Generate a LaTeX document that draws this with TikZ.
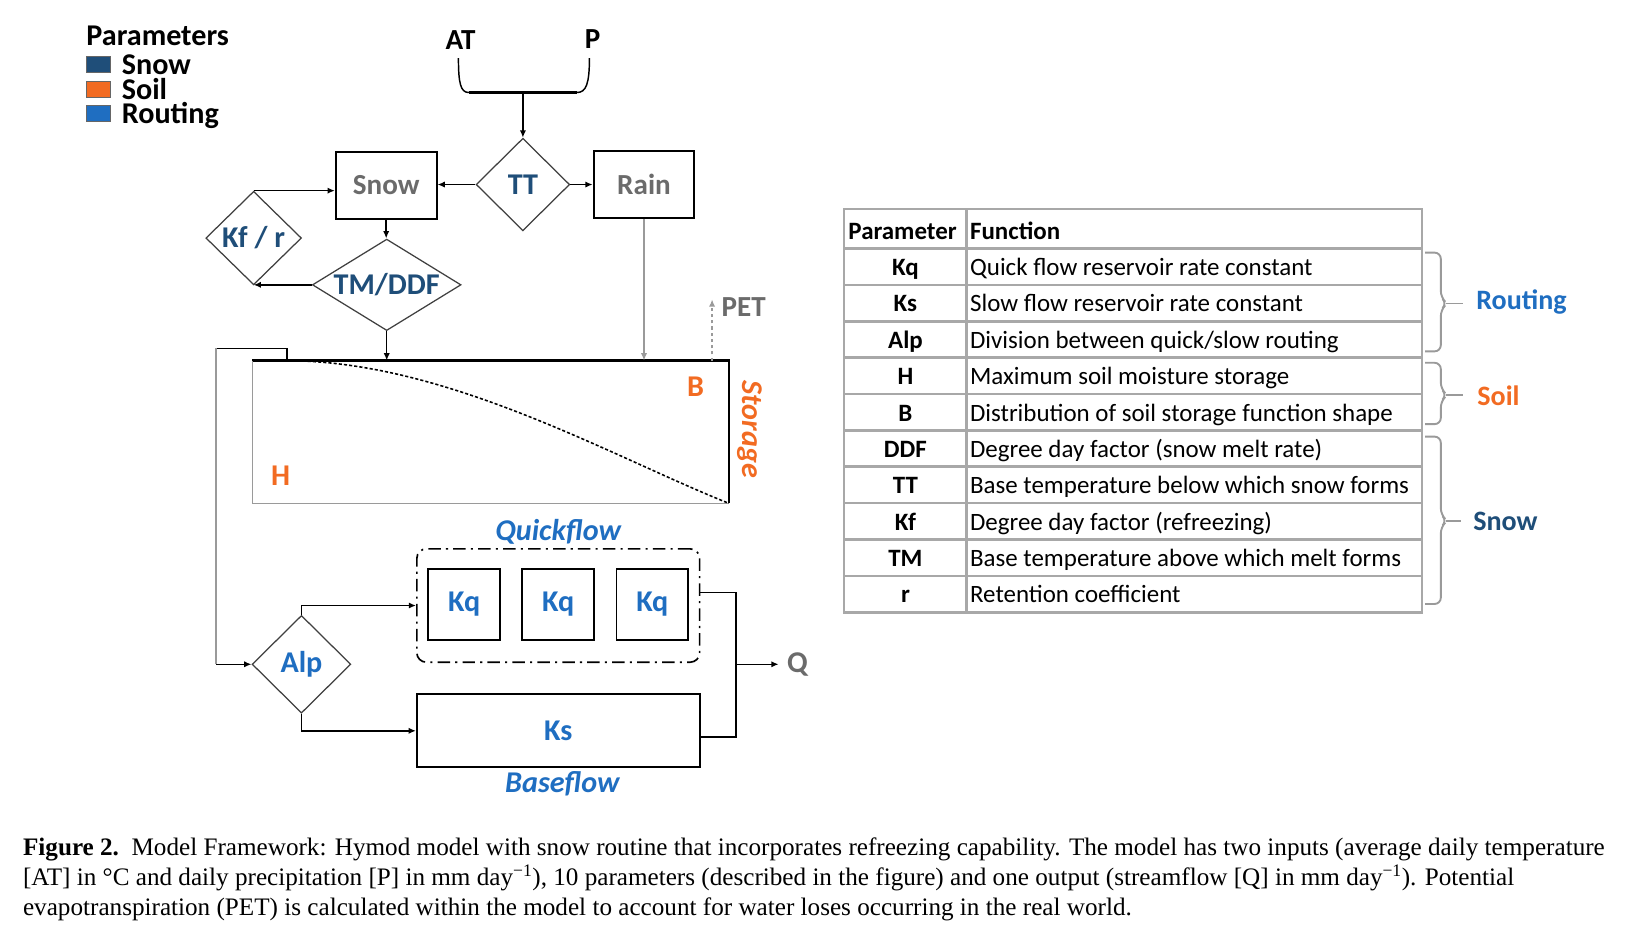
\documentclass[tikz,border=0pt]{standalone}
\usepackage{fontspec}
\setmainfont{Carlito}
\newfontfamily\capfont{Liberation Serif}
\usetikzlibrary{shapes.geometric,arrows.meta}
\definecolor{snowc}{HTML}{1F4E79}
\definecolor{soilc}{HTML}{F26B22}
\definecolor{routc}{HTML}{1F6EC1}
\definecolor{graytxt}{HTML}{6B6B6B}
\definecolor{tabline}{HTML}{A8A8A8}
\definecolor{lgray}{HTML}{9A9A9A}
\newcommand{\fsz}[1]{\fontsize{#1}{#1}\selectfont}
\begin{document}
\begin{tikzpicture}[x=1pt,y=-1pt,
  lbl/.style={font=\fsz{29}\bfseries, inner sep=0},
  box/.style={draw, line width=1.8pt, inner sep=0},
  dia/.style={diamond, draw=black!75, line width=1.2pt, inner sep=0},
  arr/.style={line width=1.4pt, -{Latex[length=7pt,width=6pt]}},
  ln/.style={line width=1.4pt},
  tab/.style={draw=tabline, line width=2.5pt},
  ptxt/.style={font=\fsz{24}\bfseries, inner sep=0, anchor=base},
  ftxt/.style={font=\fsz{24}, inner sep=0, anchor=base west},
  captxt/.style={font=\capfont\fsz{24.2}, anchor=base west, inner sep=0},
  legsq/.style={draw=black!60, line width=0.8pt, minimum width=23pt, minimum height=16pt, inner sep=0},
  legtxt/.style={font=\fsz{29}\bfseries, anchor=base west, inner sep=0}
]
\useasboundingbox (0,0) rectangle (1568,910);
\fill[white] (0,0) rectangle (1568,910);

% legend
\node[legtxt] (legtitle) at (83,44) {Parameters};
\node[legsq, fill=snowc] (sqsnow) at (94.5,62) {};
\node[legsq, fill=soilc] (sqsoil) at (94.5,86) {};
\node[legsq, fill=routc] (sqrout) at (94.5,109) {};
\node[legtxt] (legsnow) at (117,72) {Snow};
\node[legtxt] (legsoil) at (117,96) {Soil};
\node[legtxt] (legrout) at (117,119) {Routing};

% inputs
\node[font=\fsz{28}\bfseries, inner sep=0, anchor=base] (at) at (443,48) {AT};
\node[font=\fsz{28}\bfseries, inner sep=0, anchor=base] (p) at (570,47) {P};
\coordinate (atl) at (441,56);
\coordinate (pl) at (567,56);
\coordinate (barl) at (451,89);
\coordinate (barr) at (555,89);
\coordinate (merge) at (503,89);
\draw[ln] (atl) .. controls (441,80) and (443,89) .. (barl);
\draw[ln] (pl) .. controls (567,80) and (564,89) .. (barr);
\draw[line width=3.5pt] (barl) -- (barr);

% snow routine
\node[dia, minimum width=90pt, minimum height=89pt, label={[lbl,text=snowc]center:TT}] (tt) at (503,177.5) {};
\node[box, minimum width=97pt, minimum height=65pt, text=graytxt, font=\fsz{28}\bfseries] (snow) at (371.5,178.5) {Snow};
\node[box, minimum width=97pt, minimum height=65pt, text=graytxt, font=\fsz{28}\bfseries] (rain) at (619.5,177.5) {Rain};
\node[dia, minimum width=92pt, minimum height=90pt, label={[lbl,text=snowc]center:Kf / r}] (kf) at (244,229) {};
\node[dia, minimum width=143pt, minimum height=88pt, label={[lbl,text=snowc]center:TM/DDF}] (tm) at (372,274) {};

\draw[arr] (merge) -- (tt.north);
\draw[arr] (tt.west) -- (tt.west -| snow.east);
\draw[arr] (tt.east) -- (tt.east -| rain.west);
\draw[arr] (snow.south) -- (snow.south |- tm.north);
\draw[arr] (tm.west) -- (tm.west -| kf.south);
\draw[arr] (kf.north) -- (kf.north -| snow.west);

% storage
\node[minimum width=458pt, minimum height=137pt, inner sep=0] (stor) at (472,415.5) {};
\draw[line width=2pt] (stor.north west) -- (stor.north east) -- (stor.south east);
\draw[line width=1.5pt, lgray] (stor.south east) -- (stor.south west) -- (stor.north west);
\coordinate (cst) at (276,347);
\draw[densely dashed, line width=1.5pt] (cst) .. controls (430,347) and (590,440) .. (stor.south east);
\draw[arr] (tm.south) -- (tm.south |- stor.north);
\draw[arr, draw=lgray] (rain.south) -- (rain.south |- stor.north);
\node[font=\fsz{28}\bfseries, text=graytxt, anchor=west, inner sep=0] (pet) at (694,295) {PET};
\coordinate (petfoot) at (685,347);
\coordinate (pettip) at (685,288);
\draw[arr, dashed, draw=lgray] (petfoot) -- (pettip);
\node[lbl, text=soilc] (b) at (669,372) {B};
\node[lbl, text=soilc] (h) at (270,458) {H};
\node[font=\fsz{29}\bfseries\itshape, text=soilc, rotate=-90, inner sep=0] (storlbl) at (721,413) {Storage};

% routing
\node[dia, minimum width=95pt, minimum height=94pt, label={[lbl,text=routc]center:Alp}] (alp) at (290,639) {};
\coordinate (fb1) at (276,335);
\coordinate (fb2) at (208,335);
\coordinate (fb3) at (208,639);
\draw[ln] (cst) -- (fb1) -- (fb2);
\draw[ln, lgray] (fb2) -- (fb3);
\draw[arr] (fb3) -- (alp.west);

\node[font=\fsz{29}\bfseries\itshape, text=routc, inner sep=0] (qlbl) at (537,512) {Quickflow};
\node[draw, dash pattern=on 12pt off 5pt on 2pt off 5pt, rounded corners=9pt, line width=1.6pt, minimum width=272pt, minimum height=109pt, inner sep=0] (qf) at (537,582.5) {};
\node[box, minimum size=69pt, text=routc, font=\fsz{29}\bfseries] (kq1) at (446.5,581.5) {Kq};
\node[box, minimum size=69pt, text=routc, font=\fsz{29}\bfseries] (kq2) at (537,581.5) {Kq};
\node[box, minimum size=69pt, text=routc, font=\fsz{29}\bfseries] (kq3) at (627.5,581.5) {Kq};
\node[box, minimum width=272pt, minimum height=70pt, text=routc, font=\fsz{29}\bfseries] (ks) at (537,703) {Ks};
\node[font=\fsz{29}\bfseries\itshape, text=routc, inner sep=0] (blbl) at (541,754) {Baseflow};

\draw[arr] (alp.north) |- (qf.west);
\draw[arr] (alp.south) |- (ks.west);

\node[font=\fsz{29}\bfseries, text=graytxt, anchor=west, inner sep=0] (q) at (757,639) {Q};
\coordinate (oq) at (708,570);
\coordinate (os) at (708,709);
\coordinate (oj) at (708,639);
\draw[ln] (qf.east |- oq) -- (oq) -- (os) -- (ks.east |- os);
\draw[arr] (oj) -- ([xshift=-8pt]q.west);

% table
\draw[tab] (812,201) rectangle (1368,589);
\foreach \yy in {239,274,309,344,379,414,449,484,519,554} \draw[tab] (812,\yy) -- (1368,\yy);
\draw[tab] (930,201) -- (930,589);
\node[ftxt, font=\fsz{24}\bfseries] (hpar) at (816,230) {Parameter};
\node[ftxt, font=\fsz{24}\bfseries] (hfun) at (933,230) {Function};
\node[ptxt] (p1) at (871,265) {Kq};   \node[ftxt] (f1) at (933,265) {Quick flow reservoir rate constant};
\node[ptxt] (p2) at (871,300) {Ks};   \node[ftxt] (f2) at (933,300) {Slow flow reservoir rate constant};
\node[ptxt] (p3) at (871,335) {Alp};  \node[ftxt] (f3) at (933,335) {Division between quick/slow routing};
\node[ptxt] (p4) at (871,370) {H};    \node[ftxt] (f4) at (933,370) {Maximum soil moisture storage};
\node[ptxt] (p5) at (871,405) {B};    \node[ftxt] (f5) at (933,405) {Distribution of soil storage function shape};
\node[ptxt] (p6) at (871,440) {DDF};  \node[ftxt] (f6) at (933,440) {Degree day factor (snow melt rate)};
\node[ptxt] (p7) at (871,475) {TT};   \node[ftxt] (f7) at (933,475) {Base temperature below which snow forms};
\node[ptxt] (p8) at (871,510) {Kf};   \node[ftxt] (f8) at (933,510) {Degree day factor (refreezing)};
\node[ptxt] (p9) at (871,545) {TM};   \node[ftxt] (f9) at (933,545) {Base temperature above which melt forms};
\node[ptxt] (p10) at (871,580) {r};   \node[ftxt] (f10) at (933,580) {Retention coefficient};

% braces
\draw[lgray, line width=1.8pt, rounded corners=6pt] (1371,243) -- (1386,243) -- (1386,286) -- (1392,292) -- (1386,298) -- (1386,338) -- (1371,338);
\draw[lgray, line width=1.8pt] (1391,292) -- (1407,292);
\draw[lgray, line width=1.8pt, rounded corners=6pt] (1371,349) -- (1386,349) -- (1386,374) -- (1392,380) -- (1386,386) -- (1386,408) -- (1371,408);
\draw[lgray, line width=1.8pt] (1391,380) -- (1407,380);
\draw[lgray, line width=1.8pt, rounded corners=6pt] (1371,420) -- (1386,420) -- (1386,495) -- (1392,501) -- (1386,507) -- (1386,581) -- (1371,581);
\draw[lgray, line width=1.8pt] (1391,501) -- (1405,501);
\node[font=\fsz{27}\bfseries, text=routc, anchor=base west, inner sep=0] (lrout) at (1420,298) {Routing};
\node[font=\fsz{27}\bfseries, text=soilc, anchor=base west, inner sep=0] (lsoil) at (1421,390) {Soil};
\node[font=\fsz{27}\bfseries, text=snowc, anchor=base west, inner sep=0] (lsnow) at (1417,510) {Snow};

% caption
\node[captxt] (cap1) at (22,823) {\textbf{Figure 2.}\ \ Model Framework: Hymod model with snow routine that incorporates refreezing capability. The model has two inputs (average daily temperature};
\node[captxt] (cap2) at (22,852) {[AT] in °C and daily precipitation [P] in mm day\textsuperscript{−1}), 10 parameters (described in the figure) and one output (streamflow [Q] in mm day\textsuperscript{−1}). Potential};
\node[captxt] (cap3) at (22,881) {evapotranspiration (PET) is calculated within the model to account for water loses occurring in the real world.};
\end{tikzpicture}
\end{document}
